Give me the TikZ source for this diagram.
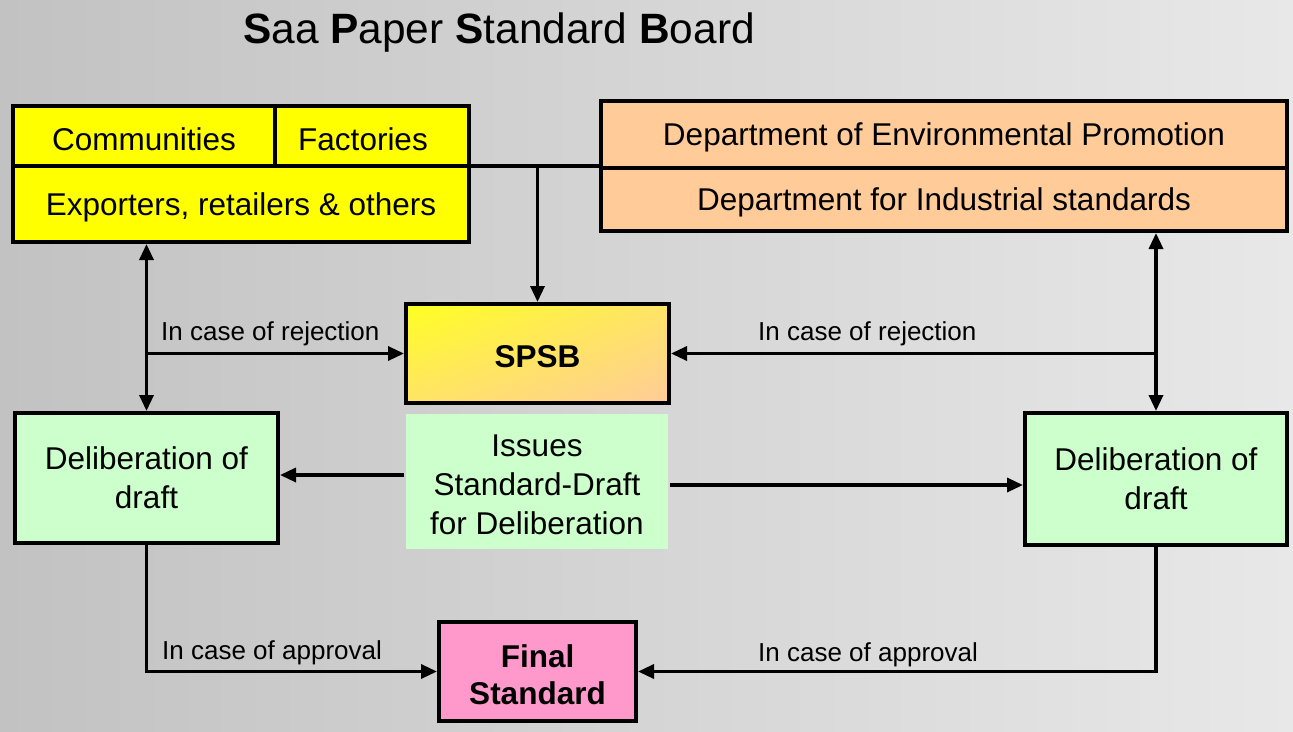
\documentclass[tikz,border=0pt]{standalone}
\usepackage{fontspec}
\setmainfont{Liberation Sans}
\usetikzlibrary{arrows.meta,shadings}
\definecolor{bgL}{HTML}{C2C2C2}
\definecolor{bgR}{HTML}{E8E8E8}
\definecolor{yel}{HTML}{FFFF00}
\definecolor{peach}{HTML}{FFCC99}
\definecolor{mint}{HTML}{CCFFCC}
\definecolor{pinkbox}{HTML}{FF99CC}
\definecolor{spsbmid}{HTML}{FFE466}
\definecolor{spsbtl}{HTML}{FFFF22}
\newcommand\myTS{\rule{0pt}{29pt}}
\begin{document}
\begin{tikzpicture}[x=1pt,y=-1pt,
  box/.style={draw=black,line width=4pt,rectangle,inner sep=0pt,align=center,
    font=\fontsize{31.5}{39}\selectfont},
  lbl/.style={inner sep=0pt,anchor=west,font=\fontsize{26}{30}\selectfont},
  conn/.style={line width=3.3pt},
  arr/.style={conn,-{Triangle[length=16pt,width=14pt]}},
  darr/.style={conn,{Triangle[length=16pt,width=14pt]}-{Triangle[length=16pt,width=14pt]}}]
\useasboundingbox (0,0) rectangle (1293,731);
\fill[left color=bgL,right color=bgR] (0,0) rectangle (1293,731);
% title
\node[inner sep=0pt,font=\fontsize{42.4}{48}\selectfont] (title) at (499,33)
  {\textbf{S}aa \textbf{P}aper \textbf{S}tandard \textbf{B}oard};
% yellow group
\node[box,fill=yel,minimum width=262pt,minimum height=60pt] (comm) at (144,136) {\myTS Communities};
\node[box,fill=yel,minimum width=194pt,minimum height=60pt] (fact) at (372,136) {\myTS Factories\hspace*{18pt}};
\node[box,fill=yel,minimum width=456pt,minimum height=76pt] (expo) at (241,204) {\myTS Exporters, retailers \& others};
% orange group
\node[box,fill=peach,minimum width=686pt,minimum height=67pt] (dep1) at (944,134.5) {\myTS Department of Environmental Promotion};
\node[box,fill=peach,minimum width=686pt,minimum height=63pt] (dep2) at (944,199.5) {\myTS Department for Industrial standards};
% SPSB
\node[box,upper left=spsbtl,lower right=peach,upper right=spsbmid,lower left=spsbmid,
  minimum width=263pt,minimum height=99pt,font=\fontsize{31.5}{39}\selectfont\bfseries] (spsb) at (537.5,353.5) {\myTS SPSB};
% issues
\node[box,draw=none,fill=mint,minimum width=262pt,minimum height=135pt] (issues) at (537,481.5)
  {\myTS Issues\\Standard-Draft\\for Deliberation};
% deliberations
\node[box,fill=mint,minimum width=263pt,minimum height=130pt] (delL) at (146.5,478) {Deliberation of\\draft};
\node[box,fill=mint,minimum width=262pt,minimum height=132pt] (delR) at (1156,479) {Deliberation of\\draft};
% final
\node[box,fill=pinkbox,minimum width=197pt,minimum height=99pt,
  font=\fontsize{31.5}{37}\selectfont\bfseries] (final) at (537.5,671.5) {\myTS Final\\Standard};
% connectors top
\draw[conn] (expo.north east |- dep2.north west) -- (dep2.north west);
\draw[arr] (spsb.north |- dep2.north west) -- (spsb.north);
% left side
\draw[darr] (delL.north |- expo.south) -- (delL.north);
\draw[arr] (delL.north |- spsb.west) -- (spsb.west);
\node[lbl] (rejL) at (161,334) {In case of rejection};
% right side
\draw[darr] (delR.north |- dep2.south) -- (delR.north);
\draw[arr] (delR.north |- spsb.east) -- (spsb.east);
\node[lbl] (rejR) at (758,334) {In case of rejection};
% issues arrows
\coordinate (iw) at ([yshift=6.5pt]issues.west);
\coordinate (ie) at ([yshift=-3.5pt]issues.east);
\draw[arr] (iw) -- (delL.east |- iw);
\draw[arr] (ie) -- (delR.west |- ie);
% approval
\draw[arr] (delL.south) |- (final.west);
\draw[arr] (delR.south) |- (final.east);
\node[lbl] (appL) at (162,653) {In case of approval};
\node[lbl] (appR) at (758,655) {In case of approval};
\end{tikzpicture}
\end{document}
